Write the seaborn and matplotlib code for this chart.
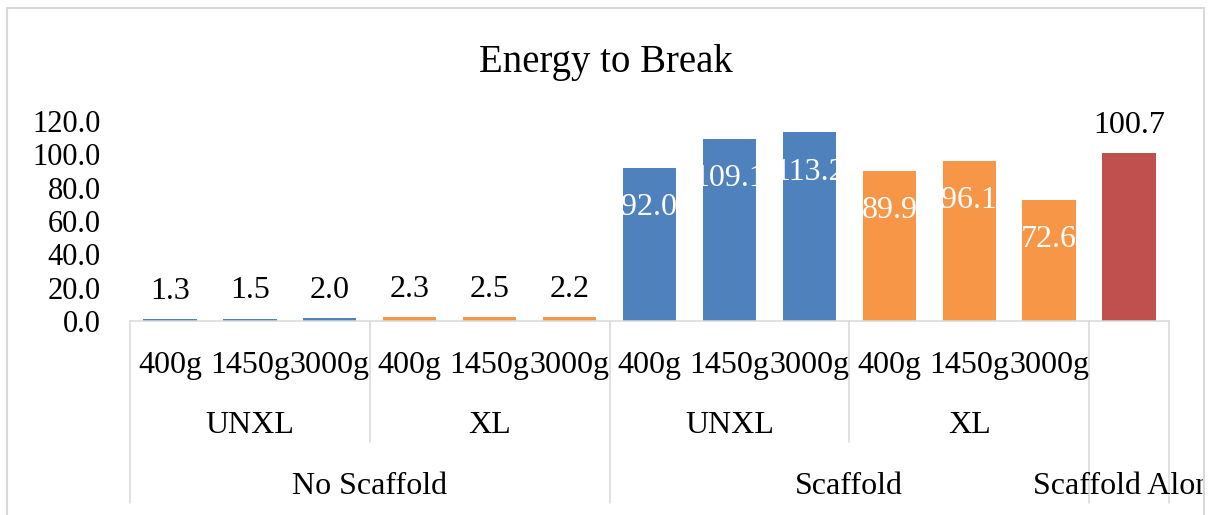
import matplotlib
matplotlib.use("Agg")
import numpy as np
import pandas as pd
import seaborn as sns
from matplotlib import pyplot as plt
from matplotlib.patches import Rectangle

# dati
scaffold = ["No Scaffold"] * 6 + ["Scaffold"] * 6 + ["Scaffold Alone"]
crosslink = ["UNXL"] * 3 + ["XL"] * 3 + ["UNXL"] * 3 + ["XL"] * 3 + [""]
peso = ["400g", "1450g", "3000g"] * 4 + [""]
energia = [1.3, 1.5, 2.0, 2.3, 2.5, 2.2, 92.0, 109.1, 113.2, 89.9, 96.1, 72.6, 100.7]
serie = ["UNXL"] * 3 + ["XL"] * 3 + ["UNXL"] * 3 + ["XL"] * 3 + ["Alone"]

table = pd.DataFrame({
    "id": [f"{s}|{c}|{p}|{i}" for i, (s, c, p) in enumerate(zip(scaffold, crosslink, peso))],
    "energia": energia,
    "serie": serie,
})

colori = {"UNXL": "#4F81BD", "XL": "#F79646", "Alone": "#C0504D"}
grigio = "#D9D9D9"

sns.set_style("white")
plt.rcParams["font.family"] = ["Liberation Serif", "DejaVu Serif"]
plt.rcParams["text.color"] = "black"
plt.rcParams["ytick.color"] = "black"

W, H = 1212, 515
fig = plt.figure(figsize=(W / 100, H / 100), dpi=100)
ax = fig.add_axes([130 / W, (H - 321) / H, 1039 / W, 200 / H])

sns.barplot(data=table, x="id", y="energia", hue="serie", palette=colori,
            order=table["id"], dodge=False, width=0.667, linewidth=0,
            saturation=1, legend=False, ax=ax)

ax.set_xlim(-0.5, len(energia) - 0.5)
ax.set_ylim(0, 120)
ax.set_yticks(np.arange(0, 121, 20))
ax.set_yticklabels([f"{v:.1f}" for v in np.arange(0, 121, 20)])
ax.tick_params(axis="y", length=0, pad=21, labelsize=22, labelcolor="black")
ax.tick_params(axis="x", length=0, labelbottom=False)
ax.set_xlabel("")
ax.set_ylabel("")
for s in ["top", "left", "right"]:
    ax.spines[s].set_visible(False)
ax.spines["bottom"].set_color(grigio)
ax.spines["bottom"].set_linewidth(1.1)

# etichette dei valori
for i, v in enumerate(energia):
    if 6 <= i <= 11:
        ax.annotate(f"{v:.1f}", (i, v), xytext=(0, -34), textcoords="offset points",
                    ha="center", va="baseline", fontsize=23, color="white")
    else:
        ax.annotate(f"{v:.1f}", (i, v), xytext=(0, 14.4), textcoords="offset points",
                    ha="center", va="baseline", fontsize=23, color="black")

# asse delle categorie a piu livelli
tr = ax.get_xaxis_transform()
clip = Rectangle((0, 0), 1204 / W, 1, transform=fig.transFigure)

for i, p in enumerate(peso):
    if p:
        ax.text(i, -0.26, p, transform=tr, ha="center", va="baseline", fontsize=23)

gruppi2 = [(0, 2, "UNXL"), (3, 5, "XL"), (6, 8, "UNXL"), (9, 11, "XL")]
for a, b, lab in gruppi2:
    ax.text((a + b) / 2, -0.56, lab, transform=tr, ha="center", va="baseline", fontsize=23)

gruppi3 = [(0, 5, "No Scaffold"), (6, 11, "Scaffold"), (12, 12, "Scaffold Alone")]
for a, b, lab in gruppi3:
    t = ax.text((a + b) / 2, -0.865, lab, transform=tr, ha="center", va="baseline",
                fontsize=23, clip_on=True)
    t.set_clip_path(clip)

for x in [-0.5, 5.5, 11.5, 12.5]:
    ax.plot([x, x], [0, -0.91], transform=tr, color=grigio, lw=1.1, clip_on=False)
for x in [2.5, 8.5]:
    ax.plot([x, x], [0, -0.605], transform=tr, color=grigio, lw=1.1, clip_on=False)

fig.text(0.5, (H - 72) / H, "Energy to Break", ha="center", va="baseline", fontsize=28)

bordo = Rectangle((7 / W, -0.05), (1204 - 7) / W, (H - 8) / H + 0.05, transform=fig.transFigure,
                  fill=False, edgecolor=grigio, lw=1.5)
fig.add_artist(bordo)

fig.savefig("out.png", dpi=100)
